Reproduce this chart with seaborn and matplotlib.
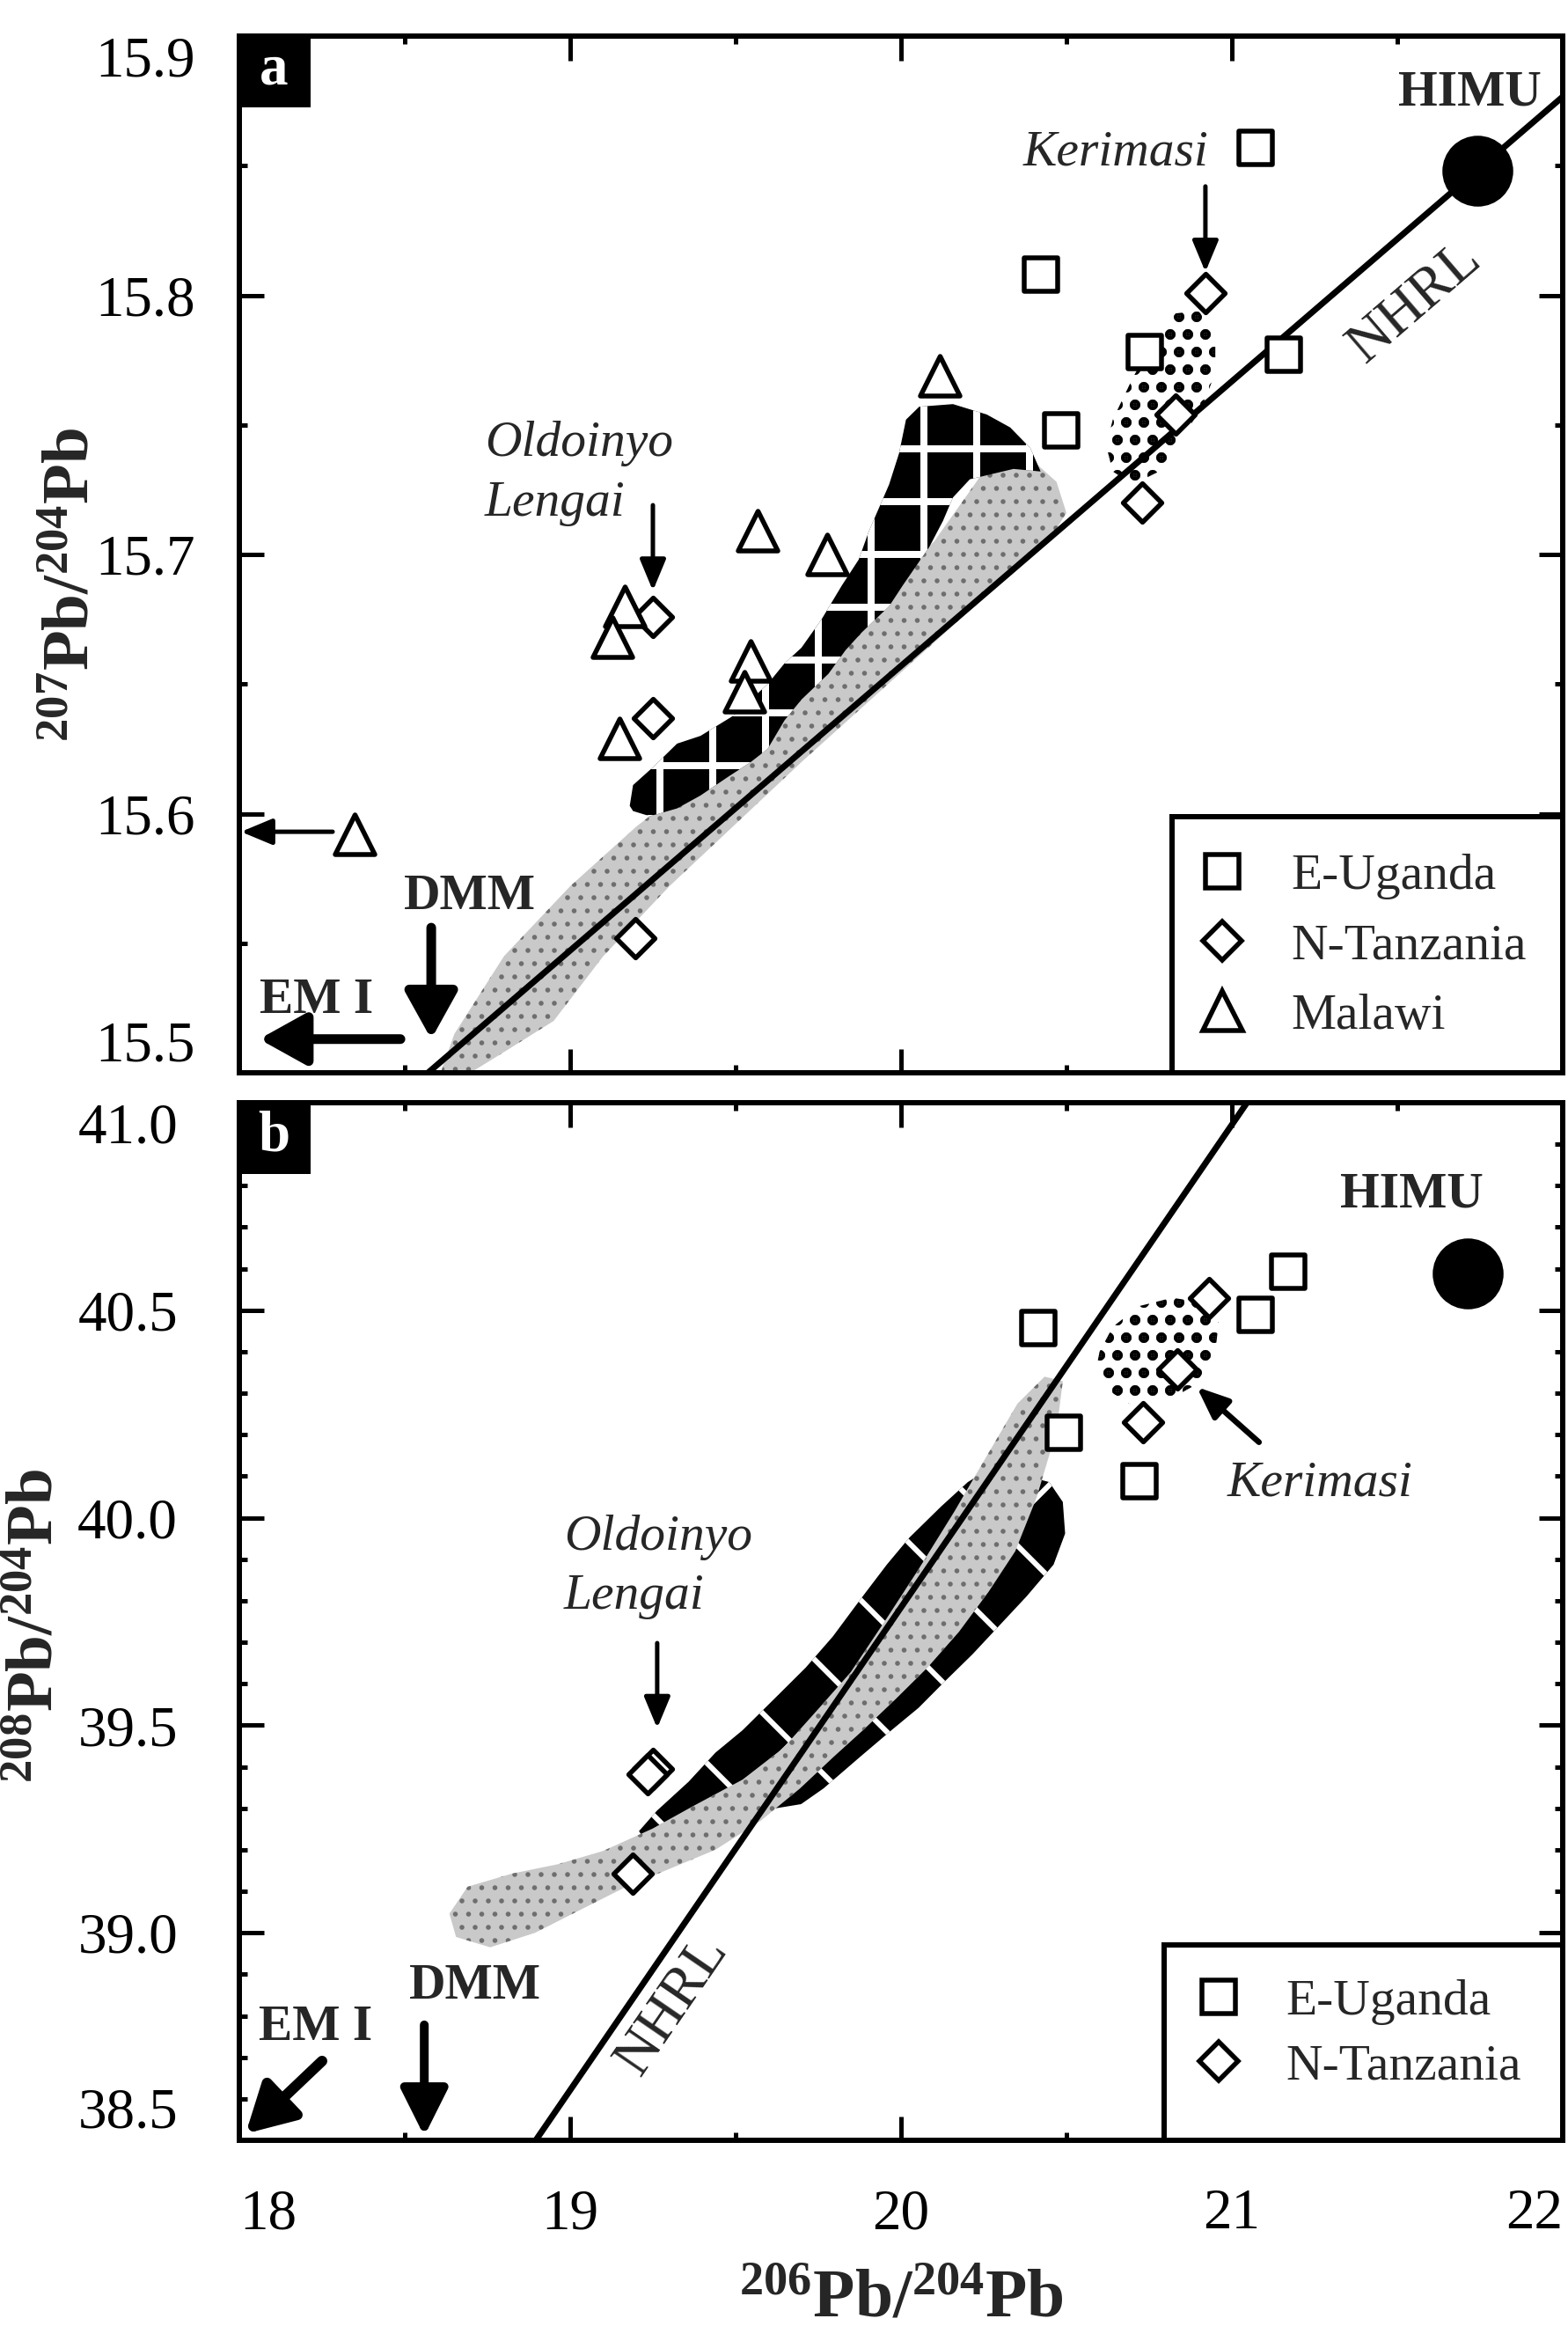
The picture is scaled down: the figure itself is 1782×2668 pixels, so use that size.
import numpy as np
import pandas as pd
import matplotlib
matplotlib.use("Agg")
import matplotlib.pyplot as plt
import seaborn as sns
from matplotlib.patches import Polygon, Rectangle
from matplotlib.lines import Line2D
from matplotlib.ticker import MultipleLocator, FixedLocator, FormatStrFormatter

# ------------------------------------------------------------------ data
x_ticks = [18, 19, 20, 21, 22]
ya_ticks = [15.5, 15.6, 15.7, 15.8, 15.9]
yb_ticks = [38.5, 39.0, 39.5, 40.0, 40.5, 41.0]
legend_labels_a = ["E-Uganda", "N-Tanzania", "Malawi"]
legend_labels_b = ["E-Uganda", "N-Tanzania"]

# panel a : 207Pb/204Pb vs 206Pb/204Pb
a_uganda_x = [21.072, 20.423, 20.737, 21.157, 20.484]
a_uganda_y = [15.857, 15.808, 15.778, 15.777, 15.748]
a_tanz_x = [20.920, 20.830, 20.729, 19.250, 19.250, 19.197]
a_tanz_y = [15.801, 15.754, 15.720, 15.676, 15.637, 15.552]
a_malawi_x = [20.117, 19.566, 19.777, 19.165, 19.128, 19.545, 19.527, 19.149, 18.348]
a_malawi_y = [15.769, 15.709, 15.700, 15.680, 15.668, 15.659, 15.647, 15.629, 15.592]
a_himu_x, a_himu_y = [21.742], [15.848]
a_nhrl_slope, a_nhrl_icpt = 0.1098, 13.461

# panel b : 208Pb/204Pb vs 206Pb/204Pb
b_uganda_x = [20.415, 20.492, 20.721, 21.072, 21.170]
b_uganda_y = [40.457, 40.205, 40.089, 40.488, 40.592]
b_tanz_x = [20.931, 20.835, 20.731, 19.250, 19.235, 19.189]
b_tanz_y = [40.529, 40.357, 40.230, 39.395, 39.383, 39.142]
b_himu_x, b_himu_y = [21.713], [40.588]
b_nhrl_slope, b_nhrl_icpt = 1.163, 16.524

# data fields (outlines)
a_black_x = [19.180, 19.190, 19.251, 19.323, 19.394, 19.496, 19.597, 19.648, 19.699, 19.760,
             19.821, 19.872, 19.903, 19.964, 19.994, 20.015, 20.055, 20.157, 20.259, 20.330,
             20.391, 20.422, 20.340, 20.208, 20.157, 20.127, 20.086, 20.005, 19.964, 19.882,
             19.832, 19.781, 19.699, 19.648, 19.597, 19.547, 19.475, 19.394, 19.323, 19.241, 19.190]
a_black_y = [15.603, 15.611, 15.618, 15.627, 15.630, 15.638, 15.650, 15.658, 15.664, 15.675,
             15.688, 15.698, 15.709, 15.727, 15.739, 15.752, 15.757, 15.758, 15.754, 15.749,
             15.741, 15.732, 15.733, 15.729, 15.722, 15.713, 15.703, 15.688, 15.680, 15.670,
             15.663, 15.654, 15.644, 15.636, 15.625, 15.620, 15.614, 15.607, 15.602, 15.599, 15.601]
a_grey_x = [18.60, 18.65, 18.80, 19.00, 19.20, 19.30, 19.60, 19.90, 20.10, 20.25, 20.40, 20.47,
            20.50, 20.45, 20.30, 20.10, 19.90, 19.70, 19.50, 19.30, 19.10, 18.95, 18.80, 18.66]
a_grey_y = [15.497, 15.515, 15.545, 15.572, 15.595, 15.605, 15.635, 15.680, 15.705, 15.732,
            15.736, 15.728, 15.716, 15.706, 15.689, 15.666, 15.643, 15.620, 15.596, 15.572,
            15.545, 15.520, 15.508, 15.497]
a_keri_x = [20.62, 20.64, 20.70, 20.76, 20.83, 20.90, 20.95, 20.95, 20.91, 20.85, 20.78, 20.70, 20.64]
a_keri_y = [15.742, 15.752, 15.768, 15.782, 15.793, 15.794, 15.784, 15.770, 15.757, 15.745,
            15.732, 15.727, 15.732]

b_black_x = [19.208, 19.262, 19.358, 19.439, 19.521, 19.630, 19.712, 19.794, 19.875, 19.957,
             20.025, 20.121, 20.202, 20.257, 20.366, 20.448, 20.489, 20.496, 20.461, 20.380,
             20.298, 20.216, 20.134, 20.053, 19.971, 19.875, 19.766, 19.698, 19.576, 19.439,
             19.303, 19.221]
b_black_y = [39.245, 39.294, 39.364, 39.434, 39.488, 39.574, 39.639, 39.714, 39.801, 39.887,
             39.952, 40.027, 40.086, 40.113, 40.103, 40.086, 40.038, 39.962, 39.887, 39.811,
             39.741, 39.671, 39.607, 39.542, 39.488, 39.423, 39.348, 39.310, 39.294, 39.272,
             39.245, 39.229]
b_grey_x = [18.635, 18.690, 18.826, 18.962, 19.099, 19.249, 19.371, 19.521, 19.644, 19.753,
            19.848, 19.957, 20.053, 20.162, 20.257, 20.352, 20.434, 20.489, 20.470, 20.410,
            20.345, 20.265, 20.175, 20.080, 19.985, 19.885, 19.795, 19.695, 19.576, 19.439,
            19.303, 19.167, 19.030, 18.894, 18.758, 18.655]
b_grey_y = [39.046, 39.111, 39.143, 39.165, 39.197, 39.251, 39.305, 39.369, 39.445, 39.542,
            39.628, 39.758, 39.876, 40.016, 40.146, 40.275, 40.340, 40.329, 40.210, 40.049,
            39.919, 39.822, 39.725, 39.639, 39.564, 39.488, 39.423, 39.348, 39.270, 39.200,
            39.155, 39.110, 39.055, 39.000, 38.965, 38.990]
b_keri_x = [20.60, 20.64, 20.72, 20.82, 20.90, 20.96, 20.95, 20.89, 20.80, 20.70, 20.62, 20.59]
b_keri_y = [40.40, 40.46, 40.51, 40.53, 40.52, 40.47, 40.40, 40.32, 40.28, 40.27, 40.31, 40.36]

# ------------------------------------------------------------------ style
sns.set_theme(style="ticks")
plt.rcParams["font.family"] = ["Liberation Serif", "DejaVu Serif"]
plt.rcParams.update({
    "mathtext.fontset": "custom",
    "mathtext.rm": "Liberation Serif",
    "mathtext.bf": "Liberation Serif:bold",
    "mathtext.it": "Liberation Serif:italic",
    "hatch.linewidth": 1.4,
    "axes.edgecolor": "black",
    "xtick.color": "black",
    "ytick.color": "black",
})
FS = 11.5
TFS = 13

W, H, DPI = 1782, 2668, 360
fig = plt.figure(figsize=(W / DPI, H / DPI), dpi=DPI)
fig.patch.set_facecolor("white")
L, R = 272 / W, 1776 / W
ax_a = fig.add_axes([L, 1 - 1219 / H, R - L, (1219 - 41) / H])
ax_b = fig.add_axes([L, 1 - 2432 / H, R - L, (2432 - 1253) / H])


def field(ax, xs, ys, fc, hatch, hc, hlw, z):
    with plt.rc_context({"hatch.linewidth": hlw}):
        p = Polygon(np.column_stack([xs, ys]), closed=True, facecolor=fc,
                    edgecolor=hc, hatch=hatch, linewidth=0, zorder=z)
    if hasattr(p, "set_hatch_linewidth"):
        p.set_hatch_linewidth(hlw)
    ax.add_patch(p)


def arrow(ax, tail, tip, lw=1.0, hl=0.6, hw=0.25):
    ax.annotate("", xy=tip, xytext=tail,
                arrowprops=dict(arrowstyle=f"-|>,head_length={hl},head_width={hw}",
                                lw=lw, color="black", shrinkA=0, shrinkB=0,
                                mutation_scale=10),
                zorder=6)


def points(ax, xs, ys, marker, size, fill="white"):
    sns.scatterplot(x=xs, y=ys, marker=marker, s=size ** 2, color=fill,
                    edgecolor="black", linewidth=1.1, ax=ax, zorder=5, legend=False)


def nhrl(ax, slope, icpt):
    xs = np.array([x_ticks[0], x_ticks[-1]], dtype=float)
    sns.lineplot(x=xs, y=slope * xs + icpt, color="black", lw=1.4, ax=ax, zorder=4)


SQ, DI, TR, CI = 7.5, 6.2, 9.0, 15.0
GREY, GREYDOT = "#c9c9c9", "#6e6e6e"

# ------------------------------------------------------------------ panel a
ax = ax_a
field(ax, a_grey_x, a_grey_y, GREY, "....", GREYDOT, 0.5, 1)
field(ax, a_black_x, a_black_y, "black", "+", "white", 1.6, 2)
field(ax, a_keri_x, a_keri_y, "none", "...", "black", 1.6, 2)
nhrl(ax, a_nhrl_slope, a_nhrl_icpt)
points(ax, a_uganda_x, a_uganda_y, "s", SQ)
points(ax, a_tanz_x, a_tanz_y, "D", DI)
points(ax, a_malawi_x, a_malawi_y, "^", TR)
points(ax, a_himu_x, a_himu_y, "o", CI, fill="black")

ax.text(20.649, 15.855, "Kerimasi", style="italic", fontsize=FS, ha="center", va="center", zorder=6)
arrow(ax, (20.920, 15.842), (20.920, 15.809))
ax.text(21.72, 15.878, "HIMU", weight="bold", fontsize=FS, ha="center", va="center", zorder=6)
ax.text(21.553, 15.797, "NHRL", fontsize=13, ha="center", va="center",
        rotation=np.degrees(np.arctan(a_nhrl_slope)), transform_rotates_text=True,
        rotation_mode="anchor", zorder=6)
ax.text(18.742, 15.738, "Oldoinyo", style="italic", fontsize=FS, ha="left", va="baseline", zorder=6)
ax.text(18.742, 15.715, "Lengai", style="italic", fontsize=FS, ha="left", va="baseline", zorder=6)
arrow(ax, (19.250, 15.719), (19.250, 15.686))
arrow(ax, (18.282, 15.593), (18.005, 15.593))
ax.text(18.697, 15.568, "DMM", weight="bold", fontsize=FS, ha="center", va="center", zorder=6)
arrow(ax, (18.580, 15.556), (18.580, 15.513), lw=2.2, hl=0.9, hw=0.5)
ax.text(18.234, 15.528, "EM I", weight="bold", fontsize=FS, ha="center", va="center", zorder=6)
arrow(ax, (18.487, 15.513), (18.06, 15.513), lw=2.2, hl=0.9, hw=0.5)

# ------------------------------------------------------------------ panel b
ax = ax_b
field(ax, b_black_x, b_black_y, "black", "x", "white", 1.2, 1)
field(ax, b_grey_x, b_grey_y, GREY, "....", GREYDOT, 0.5, 2)
field(ax, b_keri_x, b_keri_y, "none", "...", "black", 1.6, 2)
nhrl(ax, b_nhrl_slope, b_nhrl_icpt)
points(ax, b_uganda_x, b_uganda_y, "s", SQ)
points(ax, b_tanz_x, b_tanz_y, "D", DI)
points(ax, b_himu_x, b_himu_y, "o", CI, fill="black")

ax.text(21.543, 40.778, "HIMU", weight="bold", fontsize=FS, ha="center", va="center", zorder=6)
ax.text(21.266, 40.082, "Kerimasi", style="italic", fontsize=FS, ha="center", va="center", zorder=6)
arrow(ax, (21.082, 40.182), (20.894, 40.315), lw=1.3)
ax.text(19.309, 38.825, "NHRL", fontsize=13, ha="center", va="center",
        rotation=np.degrees(np.arctan(b_nhrl_slope)), transform_rotates_text=True,
        rotation_mode="anchor", zorder=6)
ax.text(18.981, 39.922, "Oldoinyo", style="italic", fontsize=FS, ha="left", va="baseline", zorder=6)
ax.text(18.981, 39.780, "Lengai", style="italic", fontsize=FS, ha="left", va="baseline", zorder=6)
arrow(ax, (19.263, 39.698), (19.263, 39.493))
ax.text(18.713, 38.871, "DMM", weight="bold", fontsize=FS, ha="center", va="center", zorder=6)
arrow(ax, (18.559, 38.778), (18.559, 38.510), lw=2.0, hl=0.9, hw=0.45)
ax.text(18.231, 38.772, "EM I", weight="bold", fontsize=FS, ha="center", va="center", zorder=6)
arrow(ax, (18.25, 38.691), (18.019, 38.516), lw=2.4, hl=0.9, hw=0.5)

# ------------------------------------------------------------------ axes
for ax, yt, ylo, yhi, ymin, ypad, lab in [
        (ax_a, ya_ticks, 15.5, 15.9, 0.05, 10, "a"),
        (ax_b, yb_ticks, 38.5, 41.0, 0.1, 14.0, "b")]:
    ax.set_xlim(x_ticks[0], x_ticks[-1])
    ax.set_ylim(ylo, yhi)
    ax.xaxis.set_major_locator(FixedLocator(x_ticks))
    ax.xaxis.set_minor_locator(MultipleLocator(0.5))
    ax.yaxis.set_major_locator(FixedLocator(yt))
    ax.yaxis.set_minor_locator(MultipleLocator(ymin))
    ax.yaxis.set_major_formatter(FormatStrFormatter("%.1f"))
    ax.tick_params(which="both", direction="in", top=True, right=True, width=1.0,
                   labelsize=TFS)
    ax.tick_params(which="major", length=5.5)
    ax.tick_params(which="minor", length=1.8)
    ax.tick_params(axis="x", pad=11)
    ax.tick_params(axis="y", pad=ypad)
    for sp in ax.spines.values():
        sp.set_linewidth(1.2)
        sp.set_color("black")
    ax.set_xlabel("")
    ax.set_ylabel("")
    yticks = ax.yaxis.get_major_ticks()
    yticks[0].label1.set_va("bottom")
    yticks[-1].label1.set_va("top")
    xticks = ax.xaxis.get_major_ticks()
    xticks[0].label1.set_ha("left")
    xticks[-1].label1.set_ha("right")
    # panel tag
    w = 78 / 1504
    h = 78 / (ax.get_position().height * H)
    ax.add_patch(Rectangle((0, 1 - h), w, h, transform=ax.transAxes,
                           facecolor="black", edgecolor="black", zorder=7, clip_on=False))
    ax.text(w / 2, 1 - h / 2, lab, transform=ax.transAxes, color="white",
            fontsize=13, weight="bold", ha="center", va="center", zorder=8)

ax_a.tick_params(axis="x", labelbottom=False)

ylab_a = r"$\mathbf{^{207}Pb/^{204}Pb}$"
ylab_b = r"$\mathbf{^{208}Pb/^{204}Pb}$"
xlab = r"$\mathbf{^{206}Pb/^{204}Pb}$"
ax_a.set_ylabel(ylab_a, fontsize=15, va="center")
ax_a.yaxis.set_label_coords(-0.126, 0.471)
ax_b.set_ylabel(ylab_b, fontsize=15, va="center")
ax_b.yaxis.set_label_coords(-0.153, 0.496)
ax_b.set_xlabel(xlab, fontsize=15.5, va="center")
ax_b.xaxis.set_label_coords(0.5, -0.154)

# ------------------------------------------------------------------ legends
def make_handle(marker, size):
    return Line2D([], [], marker=marker, ls="none", markersize=size,
                  markerfacecolor="white", markeredgecolor="black", markeredgewidth=1.1)

handles_all = [make_handle("s", SQ), make_handle("D", DI), make_handle("^", TR)]

for ax, labels, x0, top, ax_anchor_x, ax_anchor_y, lsp, htp in [
        (ax_a, legend_labels_a, 0.705, 0.247, 0.7234, 0.2116, 0.47, 0.86),
        (ax_b, legend_labels_b, 0.699, 0.188, 0.7207, 0.1555, 0.37, 0.83)]:
    ax.add_patch(Rectangle((x0, 0), 1 - x0, top, transform=ax.transAxes,
                           facecolor="white", edgecolor="black", linewidth=1.2,
                           zorder=8, clip_on=False))
    leg = ax.legend(handles_all[:len(labels)], labels, loc="upper left",
                    bbox_to_anchor=(ax_anchor_x, ax_anchor_y), frameon=False,
                    fontsize=FS, borderpad=0, borderaxespad=0, handlelength=1.0,
                    handletextpad=htp, labelspacing=lsp)
    leg.set_zorder(9)

fig.savefig("out.png", dpi=DPI, facecolor="white")
